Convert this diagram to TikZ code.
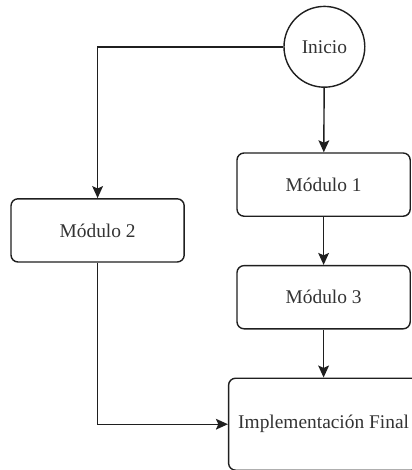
\documentclass[tikz,border=0pt]{standalone}
\usepackage{fontspec}
\setmainfont{Liberation Serif}
\usetikzlibrary{arrows.meta,positioning}
\definecolor{textdark}{HTML}{333333}
\definecolor{linedark}{HTML}{1F1F1F}
\tikzset{
  >=Stealth,
  startnode/.style={
    circle, draw=linedark, line width=1pt, fill=white,
    minimum size=2.02cm, inner sep=0pt,
    font=\fontsize{13.8}{16}\selectfont, text=textdark
  },
  module/.style={
    rectangle, rounded corners=5pt, draw=linedark, line width=1pt, fill=white,
    minimum width=4.33cm, minimum height=1.58cm, align=center,
    font=\fontsize{13.8}{16}\selectfont, text=textdark
  },
  finalbox/.style={
    module, minimum width=4.75cm, minimum height=2.3cm
  },
  arrow/.style={-{Stealth[length=3mm,width=2.7mm,inset=0.6mm]}, line width=1pt, draw=linedark}
}

\begin{document}
\begin{tikzpicture}[node distance=1.2cm]
\useasboundingbox (0,0) rectangle (10.275,-11.75);
\node[startnode] (inicio) at (8.11,-1.17) {Inicio};
\node[module, below=1.61cm of inicio.south, anchor=north, xshift=-0.02cm] (m1) {Módulo 1};
\node[module, below=of m1] (m3) {Módulo 3};
\node[module] (m2) at (2.44,-5.76) {Módulo 2};
\node[finalbox, below=of m3] (final) {Implementación Final};
\draw[arrow] (inicio.west) -| (m2.north);
\draw[arrow] (inicio) -- (m1);
\draw[arrow] (m1) -- (m3);
\draw[arrow] (m3) -- (final);
\draw[arrow] (m2.south) |- (final.west);
\end{tikzpicture}
\end{document}
